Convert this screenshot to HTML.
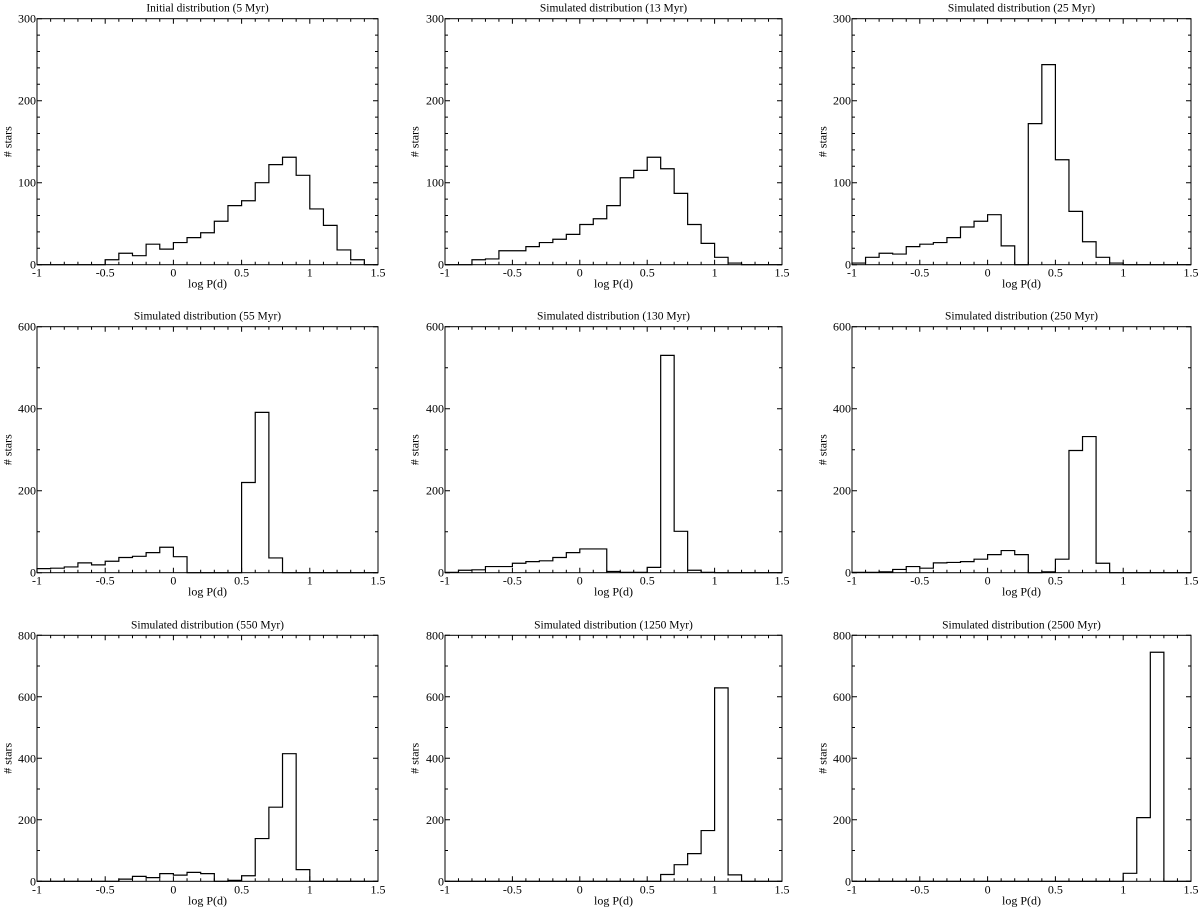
<!DOCTYPE html>
<html><head><meta charset="utf-8">
<style>
html,body{margin:0;padding:0;background:#fff;}
svg{display:block;font-family:"Liberation Serif",serif;}
</style></head>
<body>
<svg id="chart" width="1200" height="908" viewBox="0 0 1200 908" xmlns="http://www.w3.org/2000/svg"></svg>
<script>
// Bins: 25 bins of width 0.1 from logP = -1 to 1.5
const binStart = -1;
const binWidth = 0.1;
const titles = ["Initial distribution (5 Myr)","Simulated distribution (13 Myr)","Simulated distribution (25 Myr)",
"Simulated distribution (55 Myr)","Simulated distribution (130 Myr)","Simulated distribution (250 Myr)",
"Simulated distribution (550 Myr)","Simulated distribution (1250 Myr)","Simulated distribution (2500 Myr)"];
const counts5 = [0,0,0,0,0,6,14,11,25,19,27,33,39,53,72,78,100,122,131,109,68,48,18,6,0];
const counts13 = [0,0,6,7,17,17,22,27,31,37,49,56,72,106,115,131,117,87,49,26,9,2,0,0,0];
const counts25 = [2,9,14,13,22,25,27,33,46,53,61,23,0,172,244,128,65,28,9,2,0,0,0,0,0];
const counts55 = [10,11,14,24,19,28,37,40,49,62,39,0,0,0,0,220,391,36,0,0,0,0,0,0,0];
const counts130 = [1,6,7,15,15,23,27,29,37,49,58,58,3,1,1,13,530,101,6,1,0,0,0,0,0];
const counts250 = [1,1,2,8,15,11,24,25,27,33,44,54,44,0,2,33,298,332,23,0,0,0,0,0,0];
const counts550 = [0,0,0,0,0,0,7,16,12,25,20,29,25,0,3,18,139,241,415,38,0,0,0,0,0];
const counts1250 = [0,0,0,0,0,0,0,0,0,0,0,0,0,0,0,0,22,54,90,165,629,21,0,0,0];
const counts2500 = [0,0,0,0,0,0,0,0,0,0,0,0,0,0,0,0,0,0,0,0,26,207,745,0,0];
const yMaxes = [300,300,300,600,600,600,800,800,800];
const yMajorSteps = [100,100,100,200,200,200,200,200,200];
const yMinorSteps = [20,20,20,100,100,100,100,100,100];
const xTickLabels = ["-1","-0.5","0","0.5","1","1.5"];
const xMin = -1, xMax = 1.5;

const allCounts = [counts5,counts13,counts25,counts55,counts130,counts250,counts550,counts1250,counts2500];
const colL = [37,445,852], colR = [378,782,1191], ylabX = [9,416,824];
const rowT = [18.7,326.7,635.3], rowB = [264.7,572.7,881.3];
const NS = "http://www.w3.org/2000/svg";
const svg = document.getElementById('chart');
function mk(tag, attrs, parent){const e=document.createElementNS(NS,tag);for(const k in attrs)e.setAttribute(k,attrs[k]);(parent||svg).appendChild(e);return e;}

for(let p=0;p<9;p++){
  const c=p%3, r=Math.floor(p/3);
  const L=colL[c], R=colR[c], T=rowT[r], B=rowB[r];
  const ymax=yMaxes[p];
  const xs=v=>L+(v-xMin)/(xMax-xMin)*(R-L);
  const ys=v=>B-v/ymax*(B-T);
  const g=mk('g',{});
  
  
  const t=mk('text',{x:(L+R)/2,y:T-7,'text-anchor':'middle','font-size':'11.5',fill:'#000'},g);
  t.textContent=titles[p];
  
  
  const cnt=allCounts[p];
  let d='M'+xs(binStart)+','+ys(0);
  for(let i=0;i<cnt.length;i++){
    const x0=xs(binStart+i*binWidth), x1=xs(binStart+(i+1)*binWidth);
    d+=' L'+x0+','+ys(cnt[i])+' L'+x1+','+ys(cnt[i]);
  }
  d+=' L'+xs(binStart+cnt.length*binWidth)+','+ys(0);
  const h=mk('path',{d:d,fill:'none',stroke:'#000','stroke-width':'1.2'},g);
  
  
  const fr=mk('rect',{x:L,y:T,width:R-L,height:B-T,fill:'none',stroke:'#000','stroke-width':'1'},g);
  
  
  let td='';
  for(let k=0;k<=25;k++){
    const v=xMin+k*0.1, x=xs(v), len=(k%5===0)?5:3;
    td+='M'+x+','+B+' v'+(-len)+' M'+x+','+T+' v'+len+' ';
  }
  for(let v=0;v<=ymax+0.01;v+=yMinorSteps[p]){
    const y=ys(v), len=(Math.abs(v%yMajorSteps[p])<0.01)?5:3;
    td+='M'+L+','+y+' h'+len+' M'+R+','+y+' h'+(-len)+' ';
  }
  const tk=mk('path',{d:td,stroke:'#000','stroke-width':'1',fill:'none'},g);
  
  
  for(let k=0;k<xTickLabels.length;k++){
    const tl=mk('text',{x:xs(xMin+k*0.5),y:B+12,'text-anchor':'middle','font-size':'12',fill:'#000'},g);
    tl.textContent=xTickLabels[k];
    
    
  }
  for(let v=0;v<=ymax;v+=yMajorSteps[p]){
    const tl=mk('text',{x:L-1,y:ys(v)+4,'text-anchor':'end','font-size':'12',fill:'#000'},g);
    tl.textContent=String(v);
    
    
  }
  const xl=mk('text',{x:(L+R)/2,y:B+23,'text-anchor':'middle','font-size':'12',fill:'#000'},g);
  xl.textContent='log P(d)';
  
  
  const ym=(T+B)/2;
  const yl=mk('text',{x:ylabX[c],y:ym,'text-anchor':'middle','font-size':'12',fill:'#000',transform:'rotate(-90 '+ylabX[c]+' '+ym+')','dominant-baseline':'middle'},g);
  yl.textContent='# stars';
  
  
}
</script>
</body></html>
